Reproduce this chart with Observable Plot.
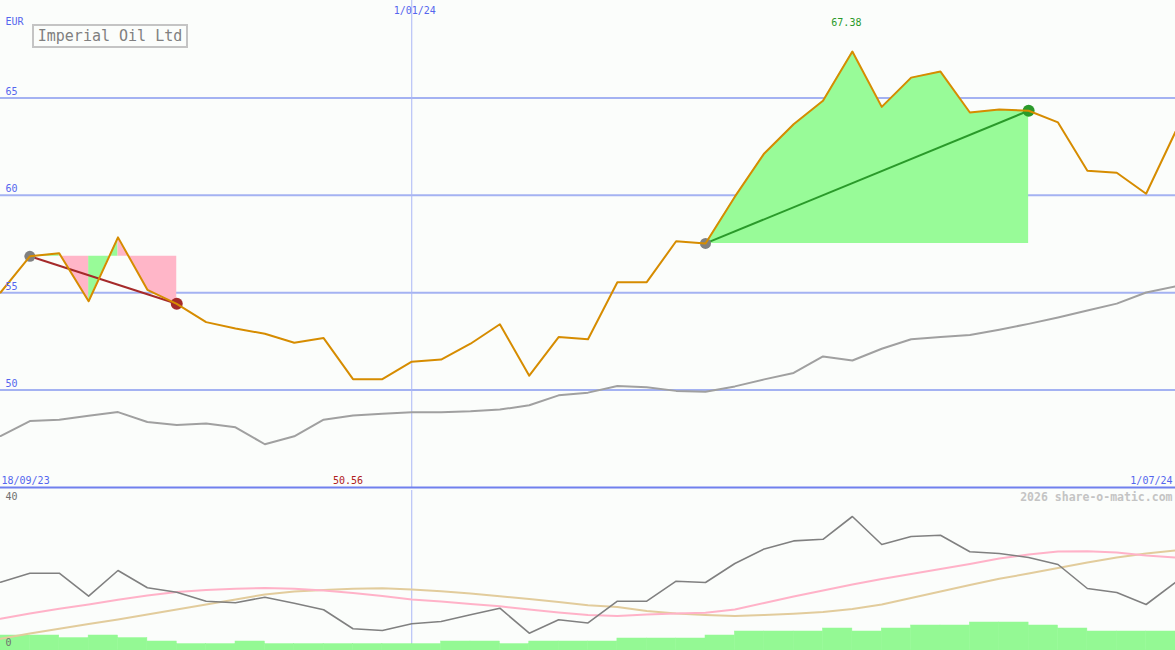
<!DOCTYPE html>
<html>
<head>
<meta charset="utf-8">
<script src="https://cdn.jsdelivr.net/npm/d3@7"></script>
<script src="https://cdn.jsdelivr.net/npm/@observablehq/plot@0.6"></script>
<style>
  html, body { margin: 0; padding: 0; background: #fbfdfb; }
  #wrap { position: relative; width: 1175px; height: 650px; overflow: hidden; font-family: "DejaVu Sans Mono", monospace; }
  #wrap svg { display: block; background: transparent; }
  #legend { position: absolute; left: 32px; top: 24px; width: 152px; height: 20px; border: 2px solid #c4c4c4;
    background: #fbfdfb; color: #808080; font: 15px "DejaVu Sans Mono", monospace; line-height: 20px; text-align: center; }
</style>
</head>
<body>
<div id="wrap"><div id="top"></div><div id="bottom"></div><div id="legend">Imperial Oil Ltd</div></div>
<script>
// ---- data ----
const dateStrings = [
  "2023-09-25","2023-10-02","2023-10-09","2023-10-16","2023-10-23","2023-10-30","2023-11-06","2023-11-13",
  "2023-11-20","2023-11-27","2023-12-04","2023-12-11","2023-12-18","2023-12-25","2024-01-01","2024-01-08",
  "2024-01-15","2024-01-22","2024-01-29","2024-02-05","2024-02-12","2024-02-19","2024-02-26","2024-03-04",
  "2024-03-11","2024-03-18","2024-03-25","2024-04-01","2024-04-08","2024-04-15","2024-04-22","2024-04-29",
  "2024-05-06","2024-05-13","2024-05-20","2024-05-27","2024-06-03","2024-06-10","2024-06-17","2024-06-24","2024-07-01"
];
const price = [
  55.01, 56.87, 57.02, 54.56, 57.84, 55.15, 54.43, 53.49, 53.16, 52.89, 52.43, 52.67, 50.56, 50.56,
  51.46, 51.57, 52.38, 53.38, 50.74, 52.72, 52.61, 55.54, 55.54, 57.64, 57.53, 59.93, 62.15, 63.65,
  64.85, 67.38, 64.54, 66.04, 66.35, 64.25, 64.40, 64.34, 63.74, 61.26, 61.16, 60.08, 63.26
];
const movingAvg = [
  47.64, 48.41, 48.48, 48.68, 48.87, 48.36, 48.21, 48.28, 48.09, 47.22, 47.63, 48.48, 48.70, 48.79,
  48.86, 48.86, 48.91, 49.00, 49.22, 49.73, 49.87, 50.21, 50.15, 49.96, 49.91, 50.19, 50.55, 50.88,
  51.73, 51.52, 52.12, 52.61, 52.73, 52.83, 53.10, 53.40, 53.73, 54.09, 54.44, 55.01, 55.32
];
const oscillator = [
  17.08, 19.33, 19.33, 13.58, 20.0, 15.68, 14.58, 12.33, 11.93, 13.33, 11.83, 10.18, 5.43, 5.0,
  6.68, 7.25, 8.93, 10.58, 4.33, 7.68, 6.88, 12.33, 12.33, 17.33, 17.0, 21.75, 25.4, 27.4,
  27.8, 33.5, 26.5, 28.5, 28.8, 24.7, 24.25, 23.25, 21.5, 15.5, 14.5, 11.5, 17.0
];
const oscFast = [
  7.93, 9.25, 10.43, 11.5, 12.68, 13.75, 14.63, 15.13, 15.45, 15.65, 15.43, 15.0, 14.38, 13.63,
  12.75, 12.25, 11.63, 11.05, 10.25, 9.5, 8.88, 8.6, 9.0, 9.25, 9.45, 10.25, 11.9, 13.5,
  15.0, 16.5, 17.88, 19.13, 20.38, 21.63, 23.0, 24.0, 24.75, 24.83, 24.5, 23.75, 23.25
];
const oscSlow = [
  2.93, 4.25, 5.43, 6.63, 7.75, 9.0, 10.25, 11.5, 12.75, 14.0, 14.75, 15.13, 15.43, 15.58,
  15.25, 14.8, 14.25, 13.55, 12.88, 12.13, 11.3, 10.88, 9.88, 9.25, 8.88, 8.63, 8.88, 9.2,
  9.63, 10.38, 11.5, 13.13, 14.75, 16.38, 17.93, 19.25, 20.63, 22.0, 23.25, 24.25, 25.0
];
const volume = [
  3.75, 3.75, 3.1, 3.75, 3.1, 2.25, 1.6, 1.6, 2.25, 1.6, 1.6, 1.6, 1.6, 1.6,
  1.6, 2.25, 2.25, 1.6, 2.25, 2.25, 2.25, 3.0, 3.0, 3.0, 3.75, 4.75, 4.75, 4.75,
  5.5, 4.75, 5.5, 6.25, 6.25, 7.0, 7.0, 6.25, 5.5, 4.75, 4.75, 4.75
];
const priceTicks = [50, 55, 60, 65];
const signalRanges = [ {from: 1, to: 6, lineColor: "#a52a2a"}, {from: 24, to: 35, lineColor: "#2a9a2a"} ];
const markerDate = "2024-01-01";
const title = "Imperial Oil Ltd";
const currency = "EUR";
const startLabel = "18/09/23";
const endLabel = "1/07/24";
const markerLabel = "1/01/24";
const copyright = "2026 share-o-matic.com";

// ---- derived tables ----
const dates = dateStrings.map(s => new Date(s));
const series = dates.map((d, i) => ({d, price: price[i], ma: movingAvg[i], osc: oscillator[i], fast: oscFast[i], slow: oscSlow[i]}));
const bars = volume.map((v, i) => ({x1: dates[i], x2: dates[i + 1], v}));
const up = [], dn = [], links = [], startDots = [], endDots = [];
let run = 0;
for (const r of signalRanges) {
  const lvl = price[r.from];
  let prevUp = null;
  for (let i = r.from; i < r.to; i++) {
    const isUp = price[i + 1] >= lvl;
    const target = isUp ? up : dn;
    if (isUp !== prevUp) {
      run++;
      target.push({d: dates[i], lo: lvl, hi: price[i], s: run});
    }
    target.push({d: dates[i + 1], lo: lvl, hi: price[i + 1], s: run});
    prevUp = isUp;
  }
  links.push({x1: dates[r.from], y1: price[r.from], x2: dates[r.to], y2: price[r.to], c: r.lineColor});
  startDots.push({d: dates[r.from], v: price[r.from]});
  endDots.push({d: dates[r.to], v: price[r.to], c: r.lineColor});
}
const minI = price.indexOf(d3.min(price));
const maxI = price.indexOf(d3.max(price));
const marker = new Date(markerDate);

const blue = "#5566ee";
const font = "DejaVu Sans Mono";
const xScale = {type: "utc", domain: [dates[0], dates[dates.length - 1]]};

const topPlot = Plot.plot({
  width: 1175, height: 489, marginLeft: 0, marginRight: 0, marginTop: 0, marginBottom: 2,
  style: {background: "transparent", fontFamily: font, fontSize: "10px"},
  x: {...xScale, axis: null},
  y: {domain: [45, 70], axis: null},
  marks: [
    Plot.ruleY(priceTicks, {stroke: "#a4b2f2", strokeWidth: 2}),
    Plot.ruleX([marker], {stroke: "#aab6f6", strokeWidth: 1}),
    Plot.areaY(up, {x: "d", y1: "lo", y2: "hi", z: "s", fill: "#98fb98", curve: "linear"}),
    Plot.areaY(dn, {x: "d", y1: "lo", y2: "hi", z: "s", fill: "#ffb6c8", curve: "linear"}),
    Plot.ruleY([45], {stroke: "#7080ee", strokeWidth: 2}),
    Plot.line(series, {x: "d", y: "ma", stroke: "#a0a0a0", strokeWidth: 2}),
    Plot.link(links, {x1: "x1", y1: "y1", x2: "x2", y2: "y2", stroke: d => d.c, strokeWidth: 2}),
    Plot.dot(startDots, {x: "d", y: "v", r: 5.5, fill: "#808080"}),
    Plot.dot(endDots, {x: "d", y: "v", r: 6, fill: d => d.c}),
    Plot.line(series, {x: "d", y: "price", stroke: "#d68c00", strokeWidth: 2}),
    Plot.text(priceTicks, {y: d => d, frameAnchor: "left", dx: 5, dy: -3, textAnchor: "start", lineAnchor: "bottom", fill: blue, fontSize: 10}),
    Plot.text([currency], {frameAnchor: "top-left", dx: 5, dy: 24, textAnchor: "start", lineAnchor: "bottom", fill: blue, fontSize: 10}),
    Plot.text([markerLabel], {x: () => marker, frameAnchor: "top", dx: 3, dy: 13, textAnchor: "middle", lineAnchor: "bottom", fill: blue, fontSize: 10}),
    Plot.text([startLabel], {frameAnchor: "bottom-left", dx: 1, dy: -4, textAnchor: "start", lineAnchor: "bottom", fill: blue, fontSize: 10}),
    Plot.text([endLabel], {frameAnchor: "bottom-right", dx: -3, dy: -4, textAnchor: "end", lineAnchor: "bottom", fill: blue, fontSize: 10}),
    Plot.text([price[minI]], {x: () => dates[minI], text: d => d.toFixed(2), frameAnchor: "bottom", dx: -5, dy: -4, textAnchor: "middle", lineAnchor: "bottom", fill: "#b02020", fontSize: 10}),
    Plot.text([price[maxI]], {x: () => dates[maxI], text: d => d.toFixed(2), frameAnchor: "top", dx: -6, dy: 25, textAnchor: "middle", lineAnchor: "bottom", fill: "#2a9a2a", fontSize: 10})
  ]
});
document.getElementById("top").appendChild(topPlot);

const bottomPlot = Plot.plot({
  width: 1175, height: 161, marginLeft: 0, marginRight: 0, marginTop: 1, marginBottom: 0,
  style: {background: "transparent", fontFamily: font, fontSize: "10px"},
  x: {...xScale, axis: null},
  y: {domain: [0, 40], axis: null},
  marks: [
    Plot.ruleX([marker], {stroke: "#aab6f6", strokeWidth: 1}),
    Plot.rectY(bars, {x1: "x1", x2: "x2", y: "v", fill: "#94f994", stroke: "#94f994", strokeWidth: 0.5, inset: 0}),
    Plot.line(series, {x: "d", y: "slow", stroke: "#e2cc9c", strokeWidth: 2}),
    Plot.line(series, {x: "d", y: "fast", stroke: "#ffb2c8", strokeWidth: 2}),
    Plot.line(series, {x: "d", y: "osc", stroke: "#808080", strokeWidth: 1.6}),
    Plot.text(["40"], {frameAnchor: "top-left", dx: 5, dy: 9, textAnchor: "start", lineAnchor: "bottom", fill: "#707070", fontSize: 10}),
    Plot.text(["0"], {frameAnchor: "bottom-left", dx: 5, dy: -5, textAnchor: "start", lineAnchor: "bottom", fill: "#707070", fontSize: 10}),
    Plot.text([copyright], {frameAnchor: "top-right", dx: -3, dy: 10, textAnchor: "end", lineAnchor: "bottom", fill: "#c4c4c4", fontSize: 11.5, fontWeight: "bold"})
  ]
});
document.getElementById("bottom").appendChild(bottomPlot);
</script>
</body>
</html>
